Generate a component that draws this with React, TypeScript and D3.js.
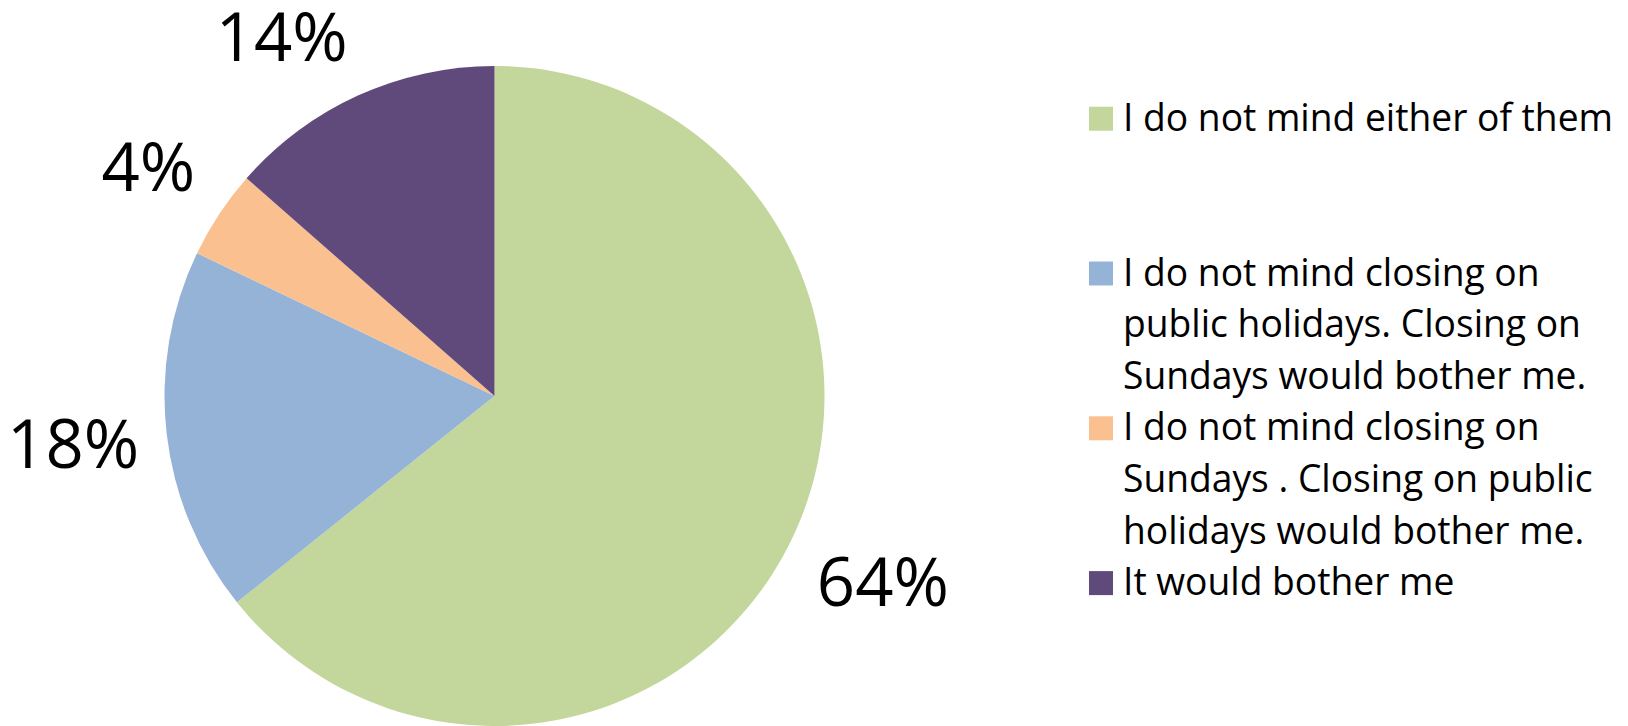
import React, { useEffect, useRef } from "react";
import * as d3 from "d3";

const categories = [
  "I do not mind either of them",
  "I do not mind closing on public holidays. Closing on Sundays would bother me.",
  "I do not mind closing on Sundays . Closing on public holidays would bother me.",
  "It would bother me",
];
const legendLines = [
  ["I do not mind either of them"],
  ["I do not mind closing on", "public holidays. Closing on", "Sundays would bother me."],
  ["I do not mind closing on", "Sundays . Closing on public", "holidays would bother me."],
  ["It would bother me"],
];
const values = [133, 37, 9, 28];
const colors = ["#C3D69B", "#95B3D7", "#FAC090", "#604A7B"];

const W = 1628;
const H = 726;
const FONT = "'Open Sans', 'Noto Sans', sans-serif";

export default function App() {
  const ref = useRef<SVGSVGElement | null>(null);

  useEffect(() => {
    const svg = d3.select(ref.current);
    svg.selectAll("*:not(title)").remove();

    const cx = 494.5;
    const cy = 396;
    const r = 330;
    const total = d3.sum(values);

    const pie = d3
      .pie<number>()
      .sort(null)
      .value((d) => d)
      .startAngle(0)
      .endAngle(2 * Math.PI);
    const arcs = pie(values);
    const arc = d3.arc<d3.PieArcDatum<number>>().innerRadius(0).outerRadius(r);

    const g = svg.append("g").attr("transform", `translate(${cx},${cy})`);
    g.selectAll("path")
      .data(arcs)
      .join("path")
      .attr("d", arc as any)
      .attr("fill", (_d, i) => colors[i]);

    // data labels
    const labelSize = 67;
    const capH = labelSize * 0.714;
    const halfBoxH = 40;
    const gap = 24;
    const topBound = 12.7;
    arcs.forEach((a) => {
      const pct = Math.round((a.value / total) * 100) + "%";
      const t = svg
        .append("text")
        .attr("font-family", FONT)
        .attr("font-size", labelSize)
        .attr("fill", "#000")
        .attr("text-anchor", "middle")
        .text(pct);
      const w = (t.node() as SVGTextElement).getComputedTextLength();
      const mid = (a.startAngle + a.endAngle) / 2;
      const ux = Math.sin(mid);
      const uy = -Math.cos(mid);
      const R = r + gap + Math.abs(ux) * (w / 2) + Math.abs(uy) * halfBoxH;
      let lx = cx + R * ux;
      let ly = cy + R * uy;
      if (ly - capH / 2 < topBound) {
        ly = topBound + capH / 2;
        const dy = cy - ly;
        const dx = Math.sqrt(Math.max(0, R * R - dy * dy));
        lx = cx + Math.sign(ux) * dx;
      }
      t.attr("x", lx).attr("y", ly + capH / 2);
    });

    // legend
    const legX = 1089;
    const sq = 24;
    const textX = 1123;
    const firstBase = 130.7;
    const lineH = 51.6;
    const slot = lineH * 3;
    const legSize = 37.4;
    const targetW = 490;
    const lg = svg.append("g");
    const texts: SVGTextElement[] = [];
    legendLines.forEach((lines, i) => {
      const base = firstBase + i * slot;
      lg.append("rect")
        .attr("x", legX)
        .attr("y", base - sq)
        .attr("width", sq)
        .attr("height", sq)
        .attr("fill", colors[i]);
      lines.forEach((ln, j) => {
        const t = lg
          .append("text")
          .attr("x", textX)
          .attr("y", base + j * lineH)
          .attr("font-family", FONT)
          .attr("font-size", legSize)
          .attr("fill", "#000")
          .text(ln);
        texts.push(t.node() as SVGTextElement);
      });
    });
    const w0 = texts[0].getComputedTextLength();
    const k = targetW / w0;
    texts.forEach((t) => {
      const w = t.getComputedTextLength();
      t.setAttribute("textLength", String(w * k));
      t.setAttribute("lengthAdjust", "spacingAndGlyphs");
    });
  }, []);

  return (
    <svg
      ref={ref}
      width={W}
      height={H}
      style={{ position: "absolute", left: 0, top: 0, background: "#fff" }}
    >
      <title>{categories.join("; ")}</title>
    </svg>
  );
}
